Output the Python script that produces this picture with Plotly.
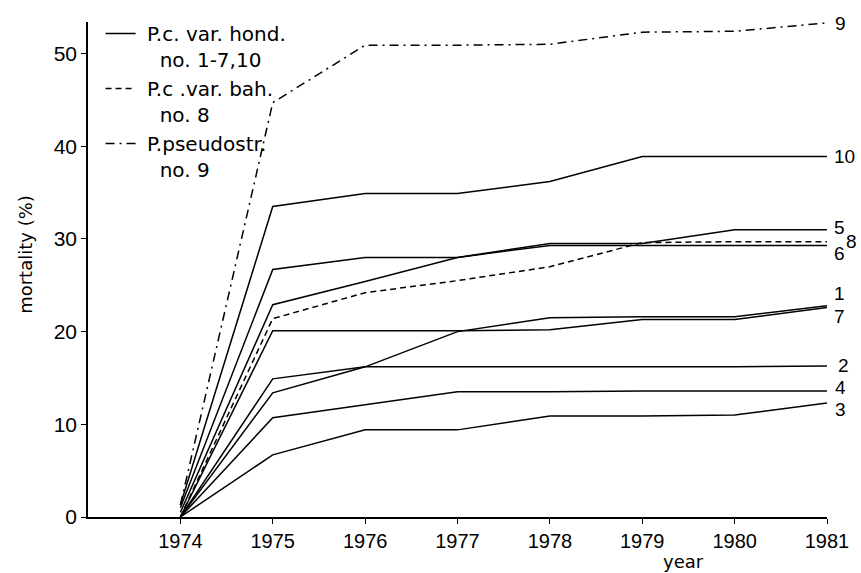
import plotly.graph_objects as go

# Cumulative mortality (%) per plot, 1974-1981
years = [1974, 1975, 1976, 1977, 1978, 1979, 1980, 1981]
no1 = [0.0, 13.4, 16.2, 20.0, 21.5, 21.6, 21.6, 22.8]
no2 = [0.0, 14.9, 16.2, 16.2, 16.2, 16.2, 16.2, 16.3]
no3 = [0.0, 6.7, 9.4, 9.4, 10.9, 10.9, 11.0, 12.3]
no4 = [0.0, 10.7, 12.1, 13.5, 13.5, 13.6, 13.6, 13.6]
no5 = [1.0, 26.7, 28.0, 28.0, 29.5, 29.5, 31.0, 31.0]
no6 = [0.5, 22.9, 25.4, 28.0, 29.3, 29.3, 29.3, 29.3]
no7 = [0.0, 20.1, 20.1, 20.1, 20.2, 21.3, 21.3, 22.6]
no8 = [0.0, 21.4, 24.2, 25.5, 27.0, 29.6, 29.7, 29.7]
no9 = [1.3, 44.7, 50.9, 50.9, 51.0, 52.3, 52.4, 53.3]
no10 = [1.3, 33.5, 34.9, 34.9, 36.2, 38.9, 38.9, 38.9]

x_ticks = [1974, 1975, 1976, 1977, 1978, 1979, 1980, 1981]
y_ticks = [0, 10, 20, 30, 40, 50]

legend_hond = "\u00a0P.c. var. hond.<br>\u00a0\u00a0\u00a0no. 1-7,10"
legend_bah = "\u00a0P.c .var. bah.<br>\u00a0\u00a0\u00a0no. 8"
legend_pseudo = "\u00a0P.pseudostr.<br>\u00a0\u00a0\u00a0no. 9"

# series: (values, end label, dash, legend name, label x/y shift)
series = [
    (no1, "1", "solid", None, 12, 12),
    (no2, "2", "solid", None, 16, 0),
    (no3, "3", "solid", None, 13, -7),
    (no4, "4", "solid", None, 13, 3),
    (no5, "5", "solid", None, 12, 2),
    (no6, "6", "solid", None, 12, -8),
    (no7, "7", "solid", None, 12, -9),
    (no8, "8", "6px,4px", legend_bah, 24, 0),
    (no9, "9", "9px,5px,2px,5px", legend_pseudo, 13, -1),
    (no10, "10", "solid", legend_hond, 17, 0),
]

fig = go.Figure()
rank = {legend_hond: 1, legend_bah: 2, legend_pseudo: 3}
for vals, lab, dash, name, dx, dy in series:
    fig.add_trace(go.Scatter(
        x=years, y=vals, mode="lines",
        line=dict(color="black", width=1.5, dash=dash),
        name=name if name else lab,
        showlegend=name is not None,
        legendrank=rank.get(name, 10),
        legendgroup=lab,
        hoverinfo="skip",
    ))
    fig.add_annotation(
        x=years[-1], y=vals[-1], xref="x", yref="y",
        text=lab, showarrow=False, xanchor="center", yanchor="middle",
        xshift=dx, yshift=dy, borderpad=0,
        font=dict(family="Liberation Sans", size=19, color="black"),
    )

fig.add_annotation(
    x=-0.085, y=0.53, xref="paper", yref="paper", text="mortality (%)",
    textangle=-90, showarrow=False, xanchor="center", yanchor="middle",
    font=dict(family="DejaVu Sans", size=18, color="black"),
)
fig.add_annotation(
    x=1979.45, y=-0.09, xref="x", yref="paper", text="year",
    showarrow=False, xanchor="center", yanchor="middle",
    font=dict(family="DejaVu Sans", size=18, color="black"),
)

fig.update_layout(
    width=861, height=573,
    margin=dict(l=88, r=30, t=22, b=56),
    paper_bgcolor="white", plot_bgcolor="white",
    showlegend=True,
    legend=dict(
        x=0.017, y=1.016, xanchor="left", yanchor="top",
        bgcolor="rgba(0,0,0,0)", borderwidth=0,
        font=dict(family="DejaVu Sans", size=20, color="black"),
        valign="top", tracegroupgap=0, traceorder="grouped",
    ),
)
fig.update_xaxes(
    range=[1973, 1981], tickvals=x_ticks, ticktext=[str(t) for t in x_ticks],
    showgrid=False, zeroline=False, showline=True, linecolor="black", linewidth=1.5,
    ticks="outside", ticklen=5, tickwidth=1.2, tickcolor="black",
    tickfont=dict(family="Liberation Sans Narrow, Liberation Sans", size=20, color="black"),
)
fig.update_yaxes(
    range=[0, 53.4], tickvals=y_ticks,
    showgrid=False, zeroline=False, showline=True, linecolor="black", linewidth=1.5,
    ticks="outside", ticklen=5, tickwidth=1.2, tickcolor="black",
    tickfont=dict(family="Liberation Sans", size=21, color="black"),
)

fig.write_html("out.html")
